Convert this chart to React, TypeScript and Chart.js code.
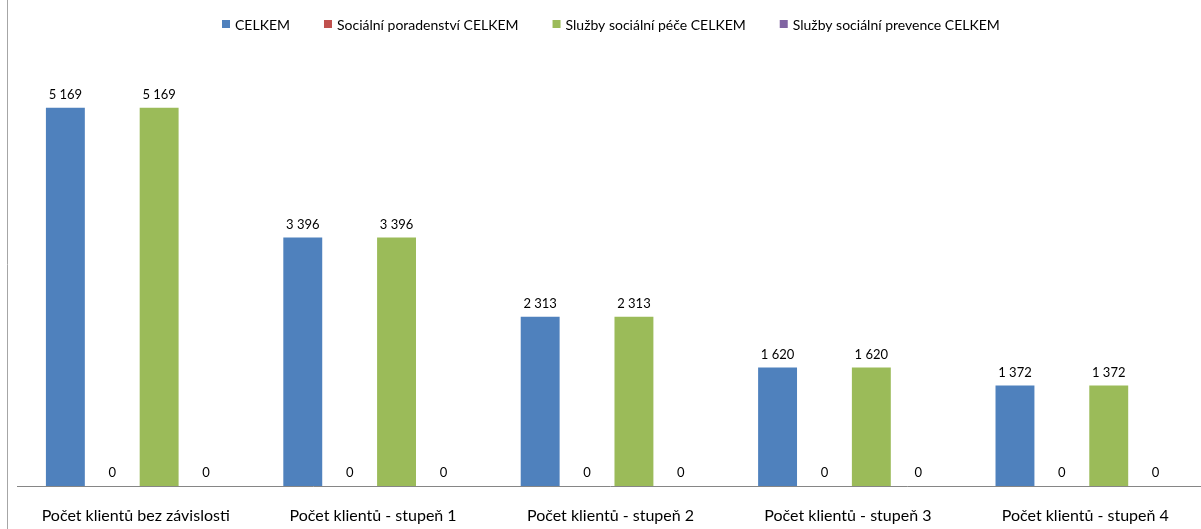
import React, { useEffect, useRef } from "react";
import { Chart, registerables } from "chart.js";

Chart.register(...registerables);

const categories = [
  "Počet klientů bez závislosti",
  "Počet klientů - stupeň 1",
  "Počet klientů - stupeň 2",
  "Počet klientů - stupeň 3",
  "Počet klientů - stupeň 4",
];
const seriesNames = [
  "CELKEM",
  "Sociální poradenství CELKEM",
  "Služby sociální péče CELKEM",
  "Služby sociální prevence CELKEM",
];
const celkem = [5169, 3396, 2313, 1620, 1372];
const poradenstvi = [0, 0, 0, 0, 0];
const pece = [5169, 3396, 2313, 1620, 1372];
const prevence = [0, 0, 0, 0, 0];
const colors = ["#4F81BD", "#C0504D", "#9BBB59", "#8064A2"];
const yMax = 6000;

const FONT = "Lato, 'Liberation Sans', sans-serif";

const fmt = (v: number) => String(v).replace(/\B(?=(\d{3})+(?!\d))/g, " ");

const decorPlugin = {
  id: "decor",
  afterDraw(chart: any) {
    const ctx = chart.ctx as CanvasRenderingContext2D;
    const area = chart.chartArea;
    ctx.save();
    // outer border line at left
    ctx.strokeStyle = "#a6a6a6";
    ctx.lineWidth = 1;
    ctx.beginPath();
    ctx.moveTo(7.5, 0);
    ctx.lineTo(7.5, chart.height);
    ctx.stroke();
    // axis line
    ctx.strokeStyle = "#868686";
    ctx.beginPath();
    ctx.moveTo(area.left, area.bottom + 0.5);
    ctx.lineTo(area.right, area.bottom + 0.5);
    ctx.stroke();
    // data labels
    ctx.fillStyle = "#000";
    ctx.font = `13px ${FONT}`;
    ctx.textAlign = "center";
    ctx.textBaseline = "middle";
    chart.data.datasets.forEach((ds: any, di: number) => {
      const meta = chart.getDatasetMeta(di);
      meta.data.forEach((bar: any, i: number) => {
        ctx.fillText(fmt(ds.data[i]), bar.x, bar.y - 13);
      });
    });
    // legend
    ctx.font = `14px ${FONT}`;
    ctx.textAlign = "left";
    const box = 8;
    const gapBox = 5;
    const gapItem = 34;
    const widths = seriesNames.map((n) => box + gapBox + ctx.measureText(n).width);
    const total = widths.reduce((a, b) => a + b, 0) + gapItem * (widths.length - 1);
    let x = Math.round((area.left + area.right) / 2 - total / 2);
    const y = 24;
    seriesNames.forEach((n, i) => {
      ctx.fillStyle = colors[i];
      ctx.fillRect(x, y - box / 2, box, box);
      ctx.fillStyle = "#000";
      ctx.fillText(n, x + box + gapBox, y + 1);
      x += widths[i] + gapItem;
    });
    ctx.restore();
  },
};

function BarChart() {
  const ref = useRef<HTMLCanvasElement>(null);
  useEffect(() => {
    if (!ref.current) return;
    const data = [celkem, poradenstvi, pece, prevence];
    const chart = new Chart(ref.current, {
      type: "bar",
      data: {
        labels: categories,
        datasets: data.map((d, i) => ({
          label: seriesNames[i],
          data: d,
          backgroundColor: colors[i],
          categoryPercentage: 0.79,
          barPercentage: 0.83,
        })),
      },
      options: {
        animation: false,
        responsive: false,
        maintainAspectRatio: false,
        layout: { padding: { left: 17, right: 6, top: 47, bottom: 0 } },
        plugins: {
          legend: { display: false },
          tooltip: { enabled: false },
          title: { display: false },
        },
        scales: {
          y: { display: false, min: 0, max: yMax },
          x: {
            grid: { display: false, drawTicks: false },
            border: { display: false },
            ticks: {
              color: "#000",
              font: { family: FONT, size: 16 },
              padding: 20,
              maxRotation: 0,
              autoSkip: false,
            },
            afterFit(scale: any) {
              scale.height = 43;
            },
          },
        },
      },
      plugins: [decorPlugin],
    });
    return () => chart.destroy();
  }, []);
  return <canvas ref={ref} width={1210} height={529} style={{ display: "block" }} />;
}

export default function App() {
  return (
    <div
      style={{
        position: "fixed",
        left: 0,
        top: 0,
        width: 1201,
        height: 529,
        overflow: "hidden",
        background: "#fff",
      }}
    >
      <BarChart />
    </div>
  );
}
